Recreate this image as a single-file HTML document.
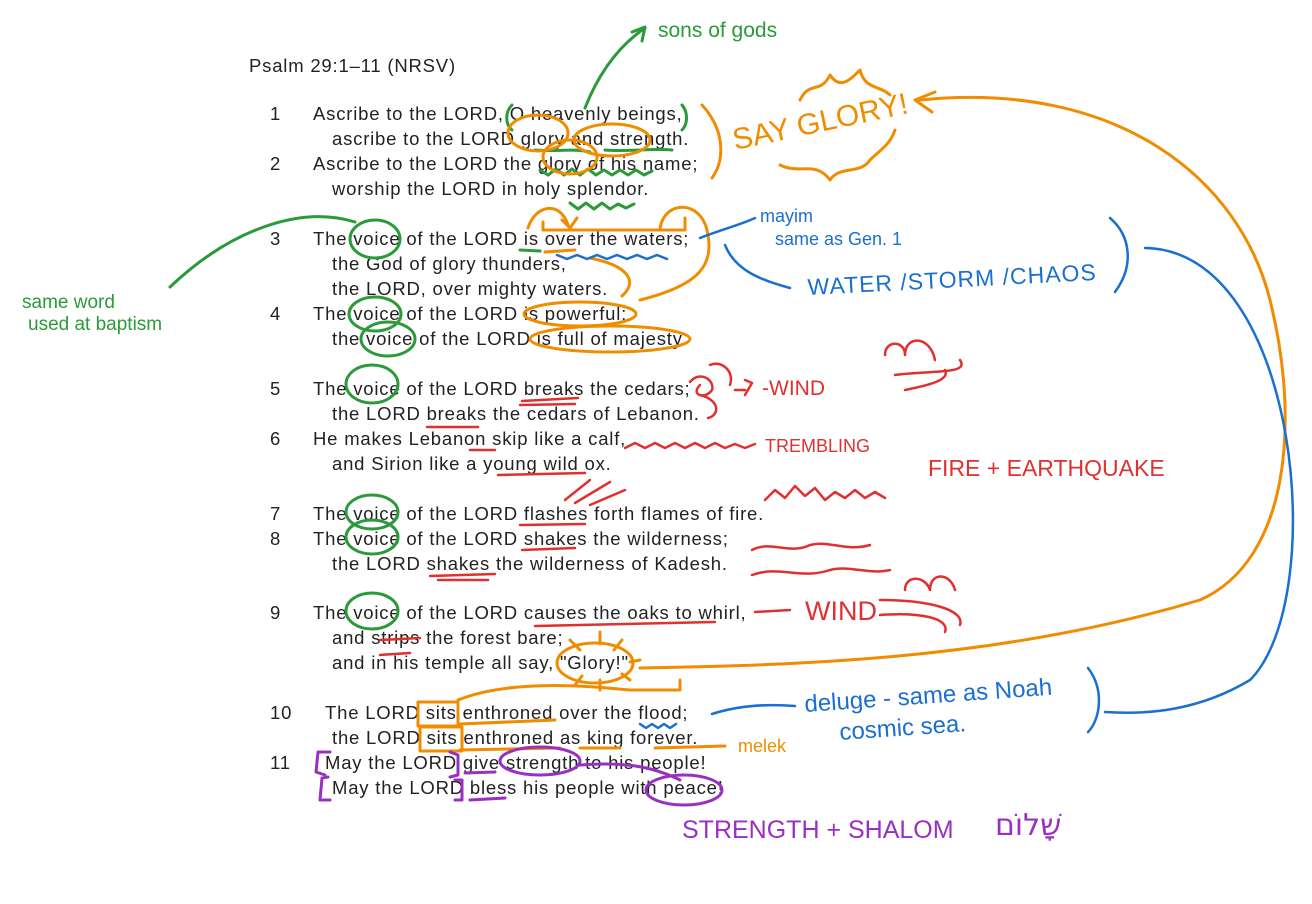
<!DOCTYPE html>
<html><head><meta charset="utf-8"><style>
html,body{margin:0;padding:0;background:#fff;}
svg{display:block}
.t{font-family:"Liberation Sans",sans-serif;font-size:18.5px;letter-spacing:0.8px;fill:#222;}
.h{font-family:"Liberation Sans",sans-serif;}
path,ellipse,rect,line{fill:none;stroke-linecap:round;stroke-linejoin:round}
.g{stroke:#2a9a3a;stroke-width:3}
.o{stroke:#f08c00;stroke-width:3}
.r{stroke:#e03030;stroke-width:2.5}
.b{stroke:#1a6fd0;stroke-width:2.5}
.p{stroke:#9a30c0;stroke-width:3}
</style></head><body>
<svg width="1312" height="904" viewBox="0 0 1312 904" xmlns="http://www.w3.org/2000/svg">
<g class="t">
<text x="249" y="72">Psalm 29:1–11 (NRSV)</text>
<text x="270" y="120">1</text><text x="313" y="120">Ascribe to the LORD, O heavenly beings,</text>
<text x="332" y="145">ascribe to the LORD glory and strength.</text>
<text x="270" y="170">2</text><text x="313" y="170">Ascribe to the LORD the glory of his name;</text>
<text x="332" y="195">worship the LORD in holy splendor.</text>
<text x="270" y="245">3</text><text x="313" y="245">The voice of the LORD is over the waters;</text>
<text x="332" y="270">the God of glory thunders,</text>
<text x="332" y="295">the LORD, over mighty waters.</text>
<text x="270" y="320">4</text><text x="313" y="320">The voice of the LORD is powerful;</text>
<text x="332" y="345">the voice of the LORD is full of majesty.</text>
<text x="270" y="395">5</text><text x="313" y="395">The voice of the LORD breaks the cedars;</text>
<text x="332" y="420">the LORD breaks the cedars of Lebanon.</text>
<text x="270" y="445">6</text><text x="313" y="445">He makes Lebanon skip like a calf,</text>
<text x="332" y="470">and Sirion like a young wild ox.</text>
<text x="270" y="520">7</text><text x="313" y="520">The voice of the LORD flashes forth flames of fire.</text>
<text x="270" y="545">8</text><text x="313" y="545">The voice of the LORD shakes the wilderness;</text>
<text x="332" y="570">the LORD shakes the wilderness of Kadesh.</text>
<text x="270" y="619">9</text><text x="313" y="619">The voice of the LORD causes the oaks to whirl,</text>
<text x="332" y="644">and strips the forest bare;</text>
<text x="332" y="669">and in his temple all say, "Glory!"</text>
<text x="270" y="719">10</text><text x="325" y="719">The LORD sits enthroned over the flood;</text>
<text x="332" y="744">the LORD sits enthroned as king forever.</text>
<text x="270" y="769">11</text><text x="325" y="769">May the LORD give strength to his people!</text>
<text x="332" y="794">May the LORD bless his people with peace!</text>
</g>
<!-- green -->
<g class="g">
<ellipse cx="375" cy="239" rx="25" ry="19"/><ellipse cx="375" cy="314" rx="26" ry="17"/><ellipse cx="388" cy="339" rx="27" ry="17"/>
<ellipse cx="372" cy="384" rx="26" ry="19"/><ellipse cx="372" cy="512" rx="26" ry="17"/><ellipse cx="372" cy="537" rx="26" ry="17"/><ellipse cx="372" cy="611" rx="26" ry="18"/>
<path d="M170 287 C230 230 300 205 355 222"/>
<path d="M585 108 C600 70 620 45 645 28"/><path d="M632 32 L645 27 L642 41"/>
<path d="M512 105 C505 112 505 124 512 130"/><path d="M682 105 C688 112 688 124 682 130"/>
<path d="M535 150 C555 152 575 148 590 152 M605 150 C630 152 650 148 672 150"/>
<path d="M540 170 l8 5 8-6 8 6 8-6 8 6 8-6 8 6 8-5 8 5 8-5 8 5 8-5 8 5 8-4"/>
<path d="M570 203 l8 6 8-6 8 6 8-6 8 6 8-5 8 4 8-4"/>
<path d="M520 250 L540 251"/>
</g>
<text class="h" x="658" y="37" fill="#2a9a3a" style="font-size:21px">sons of gods</text>
<text class="h" x="22" y="308" fill="#2a9a3a" style="font-size:19px">same word</text>
<text class="h" x="28" y="330" fill="#2a9a3a" style="font-size:19px">used at baptism</text>
<!-- orange -->
<g class="o">
<ellipse cx="538" cy="133" rx="30" ry="18"/><ellipse cx="612" cy="140" rx="38" ry="16"/><ellipse cx="570" cy="157" rx="27" ry="17"/>
<path d="M702 105 C725 130 725 160 712 178"/>
<path d="M543 222 L543 230 L685 230 L685 218"/><path d="M528 228 C535 205 560 200 568 225"/><path d="M562 220 L570 228 L577 218"/>
<path d="M660 228 C665 200 700 200 707 230 C715 265 700 285 640 300"/><path d="M590 258 C625 265 640 280 622 296"/>
<path d="M545 252 L575 250"/>
<ellipse cx="580" cy="314" rx="56" ry="12"/><ellipse cx="610" cy="339" rx="80" ry="13"/>
<ellipse cx="595" cy="663" rx="38" ry="20"/>
<path d="M570 640 L580 650 M600 632 L600 644 M622 640 L614 650 M640 660 L630 662 M630 680 L622 674 M600 690 L600 680 M575 685 L582 676"/>
<path d="M640 668 C800 665 1000 660 1200 600 C1290 560 1300 420 1270 300 C1240 180 1120 80 920 100"/><path d="M935 92 L915 100 L932 112"/>
<path d="M458 700 C520 675 620 690 630 690 L680 690 L680 680"/>
<rect x="418" y="702" width="40" height="24"/><rect x="420" y="727" width="42" height="24"/>
<path d="M460 724 L555 720 M460 750 L560 748 M580 748 L620 748 M655 748 L725 746"/>
<path d="M800 100 C810 80 820 95 830 75 C840 90 850 80 860 70 C865 90 880 85 890 95"/>
<path d="M780 165 C800 175 815 160 830 180 C840 165 860 175 870 160 C880 150 890 145 895 130"/>
</g>
<text class="h" x="735" y="150" fill="#f08c00" style="font-size:30px" transform="rotate(-12 735 150)">SAY GLORY!</text>
<text class="h" x="738" y="752" fill="#f08c00" style="font-size:18px">melek</text>
<!-- red -->
<g class="r">
<path d="M522 401 L578 398 M520 405 L575 404 M427 427 L478 427 M470 450 L495 450 M498 475 L585 473"/>
<path d="M520 525 L585 524 M522 550 L575 548 M430 576 L495 574 M438 580 L488 580"/>
<path d="M565 500 L590 480 M575 503 L610 482 M590 505 L625 490"/>
<path d="M535 626 L715 622 M380 640 L420 638 M380 655 L410 653"/>
<path d="M690 382 C700 370 715 380 712 390 C705 400 690 395 700 385 M700 395 C720 400 720 415 708 418"/>
<path d="M710 365 C720 360 735 370 730 385"/>
<path d="M625 448 l10-5 10 5 10-5 10 5 10-5 10 5 10-5 10 5 10-5 10 5 10-4 10 4 10-4"/>
<path d="M765 500 l10-10 10 8 10-12 10 10 10-8 10 12 10-8 10 6 10-8 10 8 10-6 10 6"/>
<path d="M752 550 C770 540 790 555 810 545 C830 540 845 552 870 545"/>
<path d="M752 575 C780 565 800 580 830 570 C850 565 870 575 890 570"/>
<path d="M885 355 C885 340 905 340 905 355 M905 355 C905 335 930 335 935 360"/>
<path d="M895 375 C930 370 970 375 960 360 M905 390 C930 385 950 380 945 370"/>
<path d="M755 612 L790 610"/>
<path d="M905 590 C905 575 925 575 930 590 M930 590 C930 572 950 572 955 590"/>
<path d="M880 600 C930 600 965 610 960 625 M880 615 C920 612 950 618 945 632"/>
<path d="M735 390 L745 390"/>
</g>
<text class="h" x="762" y="395" fill="#e03030" style="font-size:21px">-WIND</text>
<path d="M745 380 L752 383 L745 395" stroke="#e03030" stroke-width="2.5" fill="none"/>
<text class="h" x="765" y="452" fill="#e03030" style="font-size:18px">TREMBLING</text>
<text class="h" x="928" y="476" fill="#e03030" style="font-size:23px">FIRE + EARTHQUAKE</text>
<text class="h" x="805" y="620" fill="#e03030" style="font-size:27px">WIND</text>
<!-- blue -->
<g class="b">
<path d="M557 255 l10 4 10-4 10 4 10-4 10 4 10-4 10 4 10-4 10 4 10-4 10 4"/>
<path d="M700 238 C720 230 740 225 755 218"/>
<path d="M725 245 C735 270 760 280 790 288"/>
<path d="M1110 218 C1130 235 1135 265 1115 292"/>
<path d="M1145 248 C1300 250 1330 600 1250 680 C1200 710 1150 715 1105 712"/>
<path d="M640 724 l6 4 6-4 6 4 6-4 6 4 6-4"/>
<path d="M712 714 C740 705 770 704 795 706"/>
<path d="M1088 668 C1105 690 1100 720 1088 732"/>
</g>
<text class="h" x="760" y="222" fill="#1a6fd0" style="font-size:18px">mayim</text>
<text class="h" x="775" y="245" fill="#1a6fd0" style="font-size:18px">same as Gen. 1</text>
<text class="h" x="808" y="295" fill="#1a6fd0" style="font-size:23px;letter-spacing:1px" transform="rotate(-3 808 295)">WATER /STORM /CHAOS</text>
<text class="h" x="805" y="712" fill="#1a6fd0" style="font-size:24px" transform="rotate(-4 805 712)">deluge - same as Noah</text>
<text class="h" x="840" y="740" fill="#1a6fd0" style="font-size:24px" transform="rotate(-4 840 740)">cosmic sea.</text>
<!-- purple -->
<g class="p">
<path d="M330 752 L318 752 L316 772 L325 775"/><path d="M328 777 L322 778 L320 800 L330 800"/>
<path d="M450 752 L458 755 L458 775 L450 777 M455 780 L462 780 L462 800 L455 800"/>
<ellipse cx="540" cy="761" rx="40" ry="14"/><ellipse cx="684" cy="790" rx="38" ry="15"/>
<path d="M465 773 L495 772 M470 800 L505 798 M580 765 C620 762 650 765 680 780"/>
</g>
<text class="h" x="682" y="838" fill="#9a30c0" style="font-size:25px">STRENGTH + SHALOM</text>
<text x="995" y="835" fill="#9a30c0" style="font-size:30px;font-family:'DejaVu Sans',sans-serif">שָׁלוֹם</text>
</svg>
</body></html>
